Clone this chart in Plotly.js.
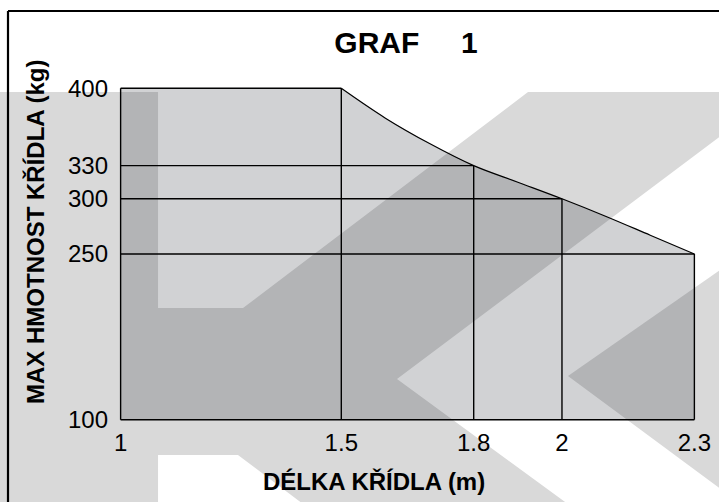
<!DOCTYPE html>
<html>
<head>
<meta charset="utf-8">
<script src="https://cdn.plot.ly/plotly-3.0.1.min.js"></script>
<style>html,body{margin:0;padding:0;background:#fff;}#chart{width:719px;height:502px;}</style>
</head>
<body>
<div id="chart"></div>
<script>
// ---- data ----
const lengthTicks = [1, 1.5, 1.8, 2, 2.3];
const lengthLabels = ['1', '1.5', '1.8', '2', '2.3'];
const weightTicks = [100, 250, 300, 330, 400];
const weightLabels = ['100', '250', '300', '330', '400'];
// rated points (wing length -> max wing weight)
const ratedLength = [1.5, 1.8, 2, 2.3];
const ratedWeight = [400, 330, 300, 250];
// limit curve
const curveLength = [1.5, 1.6, 1.7, 1.8, 1.9, 2.0, 2.1, 2.2, 2.3];
const curveWeight = [400, 373, 350, 330, 315, 300, 284, 267, 250];
const minLength = 1;
const minWeight = 100;
const maxWeight = 400;

// ---- geometry ----
const W = 719, H = 502, ML = 114, MR = 18, MT = 85, MB = 79;
const PW = W - ML - MR, PH = H - MT - MB;
const px = v => (v - ML) / PW;
const py = v => 1 - (v - MT) / PH;
function pathOf(pts) {
  return 'M ' + pts.map(p => px(p[0]).toFixed(4) + ',' + py(p[1]).toFixed(4)).join(' L ') + ' Z';
}
const wmColor = '#d9d9d9';
const watermark1 = [[-10,92],[158,92],[158,308],[243,308],[528,92],[730,92],[730,129],[397,379],[576,510],[311,510],[238,455],[158,455],[158,510],[-10,510]];
const watermark2 = [[568,376],[730,263],[730,496]];

const lastL = ratedLength[ratedLength.length - 1];
const lastW = ratedWeight[ratedWeight.length - 1];

// fill region under the limit curve
const fillX = [minLength].concat(curveLength, [lastL, minLength]);
const fillY = [maxWeight].concat(curveWeight, [minWeight, minWeight]);

// outline + internal grid lines
const gx = [], gy = [];
function seg(x0, y0, x1, y1) { gx.push(x0, x1, null); gy.push(y0, y1, null); }
seg(minLength, minWeight, minLength, maxWeight);          // left edge
seg(minLength, maxWeight, ratedLength[0], maxWeight);     // flat top
seg(minLength, minWeight, lastL, minWeight);              // bottom edge
seg(lastL, minWeight, lastL, lastW);                      // right edge
for (let i = 0; i < ratedLength.length - 1; i++) seg(ratedLength[i], minWeight, ratedLength[i], ratedWeight[i]);
for (let i = 1; i < ratedLength.length; i++) seg(minLength, ratedWeight[i], ratedLength[i], ratedWeight[i]);

const traces = [
  { x: fillX, y: fillY, type: 'scatter', mode: 'lines', fill: 'toself',
    fillcolor: 'rgba(37,42,51,0.211)', line: { width: 0 }, hoverinfo: 'skip', showlegend: false },
  { x: gx, y: gy, type: 'scatter', mode: 'lines', connectgaps: false,
    line: { color: '#000', width: 1.4 }, hoverinfo: 'skip', showlegend: false },
  { x: curveLength, y: curveWeight, type: 'scatter', mode: 'lines',
    line: { color: '#000', width: 1.2, shape: 'spline', smoothing: 1 }, hoverinfo: 'skip', showlegend: false }
];

const FONT = '"Liberation Sans", Arial, Helvetica, sans-serif';
const layout = {
  width: W, height: H,
  margin: { l: ML, r: MR, t: MT, b: MB, pad: 0 },
  paper_bgcolor: '#ffffff',
  plot_bgcolor: 'rgba(0,0,0,0)',
  showlegend: false,
  title: { text: '<b>GRAF\u00a0\u00a0\u00a0\u00a0\u00a01</b>', x: 406 / W, xanchor: 'center',
           y: 1 - 42 / H, yanchor: 'middle', font: { family: FONT, size: 30, color: '#000' } },
  xaxis: { range: [0.985, 2.315], tickvals: lengthTicks, ticktext: lengthLabels,
           showgrid: false, zeroline: false, showline: false, ticks: '', ticklabelstandoff: 3,
           tickfont: { family: FONT, size: 24, color: '#000' }, fixedrange: true },
  yaxis: { range: [97, 403], tickvals: weightTicks, ticktext: weightLabels,
           showgrid: false, zeroline: false, showline: false, ticks: '', ticklabelstandoff: 5,
           tickfont: { family: FONT, size: 24, color: '#000' }, fixedrange: true },
  annotations: [
    { text: '<b>DÉLKA KŘÍDLA (m)</b>', xref: 'paper', yref: 'paper', x: px(374), y: py(482),
      xanchor: 'center', yanchor: 'middle', showarrow: false,
      font: { family: FONT, size: 24, color: '#000' } },
    { text: '<b>MAX HMOTNOST KŘÍDLA (kg)</b>', xref: 'paper', yref: 'paper', x: px(35), y: py(232),
      xanchor: 'center', yanchor: 'middle', textangle: -90, showarrow: false,
      font: { family: FONT, size: 24, color: '#000' } }
  ],
  shapes: [
    { type: 'path', xref: 'paper', yref: 'paper', path: pathOf(watermark1), fillcolor: wmColor, line: { width: 0 }, layer: 'below' },
    { type: 'path', xref: 'paper', yref: 'paper', path: pathOf(watermark2), fillcolor: wmColor, line: { width: 0 }, layer: 'below' },
    { type: 'line', xref: 'paper', yref: 'paper', x0: px(8), x1: px(725), y0: py(11), y1: py(11), line: { color: '#000', width: 2.2 }, layer: 'above' },
    { type: 'line', xref: 'paper', yref: 'paper', x0: px(8), x1: px(8), y0: py(11), y1: py(510), line: { color: '#000', width: 2.2 }, layer: 'above' }
  ]
};

Plotly.newPlot('chart', traces, layout, { displayModeBar: false, staticPlot: true });
</script>
</body>
</html>
